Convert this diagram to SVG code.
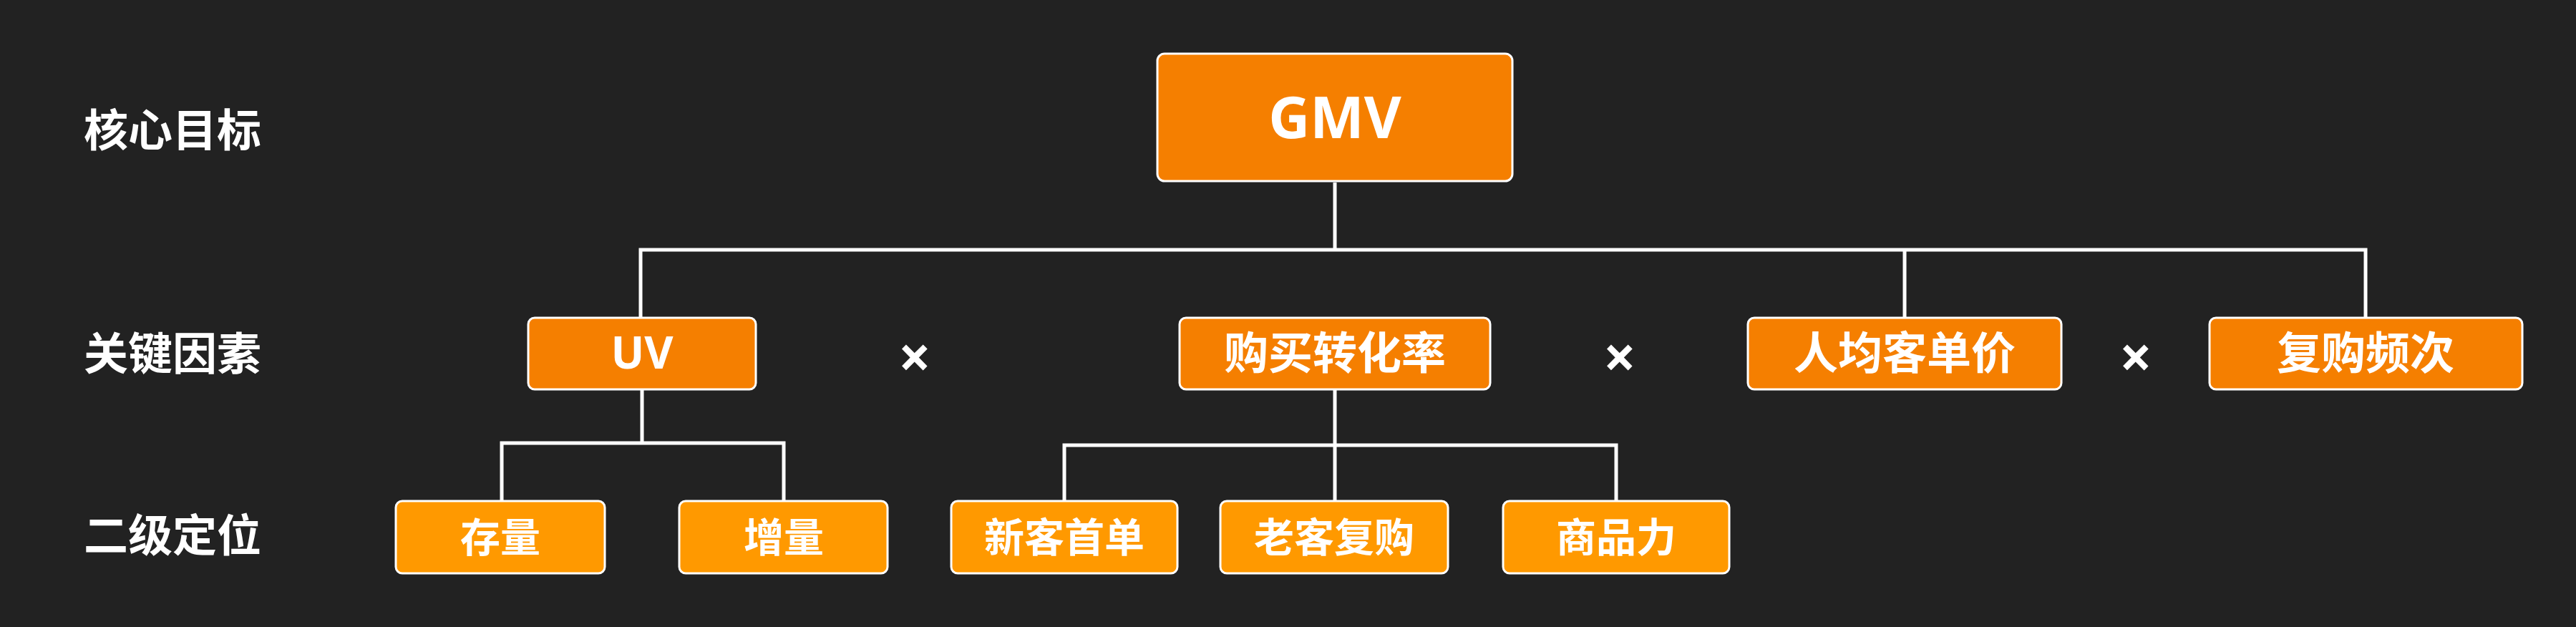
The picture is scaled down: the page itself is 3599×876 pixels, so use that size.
<svg xmlns="http://www.w3.org/2000/svg" width="3599" height="876" viewBox="0 0 3599 876">
<style>
.bg{fill:#222222}
.k{fill:#F57F00;stroke:#FFFFFF;stroke-width:3}
.s{fill:#FF9900;stroke:#FFFFFF;stroke-width:3}
.t{fill:#FFFFFF;font-family:"Noto Sans","Noto Sans CJK SC",sans-serif;font-weight:bold;text-anchor:middle}
.lab{font-size:62px}
.kt{font-size:62px}
.st{font-size:56px}
.x{font-size:80px}
.c{fill:none;stroke:#FFFFFF;stroke-width:5}
</style>
<rect class="bg" x="0" y="0" width="3599" height="876"/>
<g id="labels">
<text class="t lab" x="241" y="205">核心目标</text>
<text class="t lab" x="241" y="517">关键因素</text>
<text class="t lab" x="241" y="771">二级定位</text>
</g>
<g id="connectors">
<path class="c" d="M1865 255 V349 M895 444 V349 H3305 V444 M2661 349 V444"/>
<path class="c" d="M897 544 V619 M701 700 V619 H1095 V700"/>
<path class="c" d="M1865 544 V700 M1487 700 V622 H2258 V700"/>
</g>
<g id="n-gmv"><rect class="k" x="1617" y="75" width="496" height="178" rx="10"/><text class="t" style="font-size:80px" x="1865" y="193">GMV</text></g>
<g id="n-uv"><rect class="k" x="738" y="444" width="318" height="100" rx="9"/><text class="t kt" x="897" y="515">UV</text></g>
<g id="n-cvr"><rect class="k" x="1648" y="444" width="434" height="100" rx="9"/><text class="t kt" x="1865" y="516">购买转化率</text></g>
<g id="n-arpu"><rect class="k" x="2442" y="444" width="438" height="100" rx="9"/><text class="t kt" x="2661" y="516">人均客单价</text></g>
<g id="n-freq"><rect class="k" x="3087" y="444" width="437" height="100" rx="9"/><text class="t kt" x="3305" y="516">复购频次</text></g>
<g id="ops">
<text class="t x" x="1278" y="528">×</text>
<text class="t x" x="2263" y="528">×</text>
<text class="t x" x="2984" y="528">×</text>
</g>
<g id="n-stock"><rect class="s" x="553" y="700" width="292" height="101" rx="9"/><text class="t st" x="699" y="771">存量</text></g>
<g id="n-incr"><rect class="s" x="949" y="700" width="291" height="101" rx="9"/><text class="t st" x="1095" y="771">增量</text></g>
<g id="n-new"><rect class="s" x="1329" y="700" width="316" height="101" rx="9"/><text class="t st" x="1487" y="771">新客首单</text></g>
<g id="n-old"><rect class="s" x="1705" y="700" width="318" height="101" rx="9"/><text class="t st" x="1864" y="771">老客复购</text></g>
<g id="n-prod"><rect class="s" x="2100" y="700" width="316" height="101" rx="9"/><text class="t st" x="2258" y="771">商品力</text></g>
</svg>
